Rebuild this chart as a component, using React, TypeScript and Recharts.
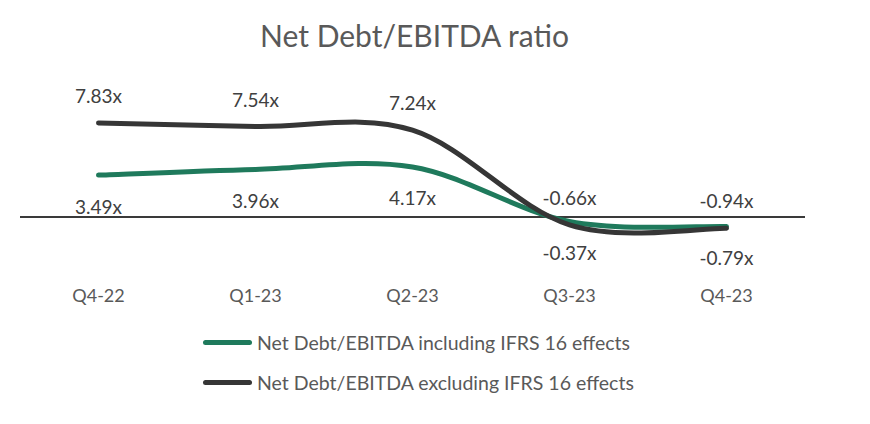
import React from 'react';
import { LineChart, Line, XAxis, YAxis, ReferenceLine, LabelList, Legend } from 'recharts';

const quarters = ['Q4-22', 'Q1-23', 'Q2-23', 'Q3-23', 'Q4-23'];
const inclIfrs = [3.49, 3.96, 4.17, -0.37, -0.79];
const exclIfrs = [7.83, 7.54, 7.24, -0.66, -0.94];

const GREEN = '#1f7a5c';
const DARK = '#363636';
const FONT = 'Lato, "Open Sans", sans-serif';

const data = quarters.map((q, i) => ({ q, incl: inclIfrs[i], excl: exclIfrs[i] }));

// Excel-style smoothed line (Bezier, tangents from neighbour points / 6)
const excelSmooth = (context: any) => {
  let pts: number[][] = [];
  return {
    areaStart() {},
    areaEnd() {},
    lineStart() {
      pts = [];
    },
    point(x: number, y: number) {
      pts.push([x, y]);
    },
    lineEnd() {
      if (!pts.length) return;
      context.moveTo(pts[0][0], pts[0][1]);
      for (let i = 0; i < pts.length - 1; i++) {
        const p0 = pts[Math.max(i - 1, 0)];
        const p1 = pts[i];
        const p2 = pts[i + 1];
        const p3 = pts[Math.min(i + 2, pts.length - 1)];
        context.bezierCurveTo(
          p1[0] + (p2[0] - p0[0]) / 6,
          p1[1] + (p2[1] - p0[1]) / 6,
          p2[0] - (p3[0] - p1[0]) / 6,
          p2[1] - (p3[1] - p1[1]) / 6,
          p2[0],
          p2[1]
        );
      }
    },
  };
};

const fmt = (v: any) => `${Number(v).toFixed(2)}x`;

const legendItems = [
  { label: 'Net Debt/EBITDA including IFRS 16 effects', color: GREEN },
  { label: 'Net Debt/EBITDA excluding IFRS 16 effects', color: DARK },
];

const LegendContent = () => (
  <div style={{ fontFamily: FONT }}>
    {legendItems.map((it) => (
      <div key={it.label} style={{ display: 'flex', alignItems: 'center', height: 40 }}>
        <span
          style={{
            display: 'inline-block',
            width: 49,
            height: 5,
            borderRadius: 3,
            background: it.color,
            marginRight: 5,
          }}
        />
        <span style={{ fontSize: 19.5, color: '#595959', whiteSpace: 'nowrap' }}>{it.label}</span>
      </div>
    ))}
  </div>
);

export default function App() {
  return (
    <div style={{ position: 'absolute', left: 0, top: 0, width: 870, height: 424, background: '#fff' }}>
      <div
        style={{
          position: 'absolute',
          top: 16,
          left: 0,
          width: 829,
          textAlign: 'center',
          fontFamily: FONT,
          fontSize: 30,
          lineHeight: '38px',
          color: '#595959',
        }}
      >
        Net Debt/EBITDA ratio
      </div>
      <LineChart width={870} height={424} data={data} margin={{ top: 109, right: 65, bottom: 123, left: 20 }}>
        <XAxis
          dataKey="q"
          axisLine={false}
          tickLine={false}
          tickMargin={12}
          height={30}
          padding={{ left: 78.5, right: 78.5 }}
          tick={{ fill: '#595959', fontSize: 18, fontFamily: FONT }}
        />
        <YAxis hide type="number" domain={[-4.5, 9]} allowDataOverflow />
        <ReferenceLine y={0} stroke="#3a3a3a" strokeWidth={2} />
        <Legend
          layout="vertical"
          verticalAlign="middle"
          align="center"
          wrapperStyle={{ top: 322, left: 203, width: 500 }}
          content={<LegendContent />}
        />
        <Line
          dataKey="incl"
          type={excelSmooth as any}
          stroke={GREEN}
          strokeWidth={5}
          strokeLinecap="round"
          dot={false}
          activeDot={false}
          isAnimationActive={false}
        >
          <LabelList
            dataKey="incl"
            position="bottom"
            offset={25}
            formatter={fmt}
            style={{ fill: '#404040', fontSize: 19, fontFamily: FONT }}
          />
        </Line>
        <Line
          dataKey="excl"
          type={excelSmooth as any}
          stroke={DARK}
          strokeWidth={5}
          strokeLinecap="round"
          dot={false}
          activeDot={false}
          isAnimationActive={false}
        >
          <LabelList
            dataKey="excl"
            position="top"
            offset={20}
            formatter={fmt}
            style={{ fill: '#404040', fontSize: 19, fontFamily: FONT }}
          />
        </Line>
      </LineChart>
    </div>
  );
}
